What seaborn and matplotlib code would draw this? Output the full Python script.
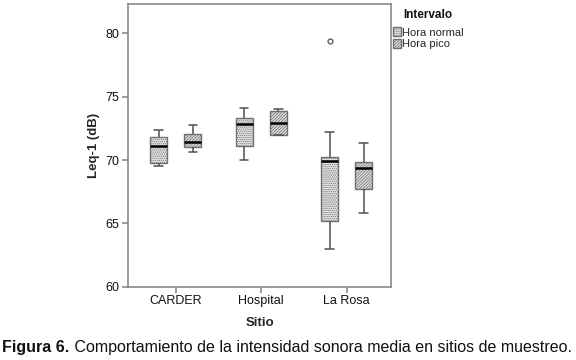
import numpy as np
import pandas as pd
import matplotlib
matplotlib.use('Agg')
import matplotlib.pyplot as plt
from matplotlib.patches import Patch
import seaborn as sns

## Data (Leq-1 in dB, per site and interval)
sitios          = ['CARDER', 'Hospital', 'La Rosa']
intervalos      = ['Hora normal', 'Hora pico']
carder_normal   = [69.5, 69.8, 71.1, 71.8, 72.4]
carder_pico     = [70.65, 71.0, 71.45, 72.05, 72.75]
hospital_normal = [70.0, 71.1, 72.85, 73.3, 74.1]
hospital_pico   = [71.95, 71.95, 72.9, 73.9, 74.05]
larosa_normal   = [63.0, 64.2, 65.2, 67.5, 69.95, 70.1, 70.25, 72.2, 79.4]
larosa_pico     = [65.8, 67.7, 69.4, 69.85, 71.35]
yticks          = [60, 65, 70, 75, 80]

groups = {('CARDER', 'Hora normal'): carder_normal,
          ('CARDER', 'Hora pico'): carder_pico,
          ('Hospital', 'Hora normal'): hospital_normal,
          ('Hospital', 'Hora pico'): hospital_pico,
          ('La Rosa', 'Hora normal'): larosa_normal,
          ('La Rosa', 'Hora pico'): larosa_pico}
rows = []
for (s, i), vals in groups.items():
    for v in vals:
        rows.append({'Sitio': s, 'Intervalo': i, 'Leq': v})
df = pd.DataFrame(rows)

## Style
sns.set_style('white')
plt.rcParams['font.family'] = ['Liberation Sans', 'DejaVu Sans']
plt.rcParams['hatch.linewidth'] = 0.55
axis_col = '#8a8a8a'
edge_col = '#707070'
line_col = '#505050'
hatches  = {'Hora normal': '........', 'Hora pico': '///////////'}

## Figure
fig = plt.figure(figsize=(5.76, 3.6), dpi=100)
ax = fig.add_axes([0.222, 0.203, 0.457, 0.786])

sns.boxplot(data=df, x='Sitio', y='Leq', hue='Intervalo', order=sitios, hue_order=intervalos,
            palette=['#e2e2e2', '#e2e2e2'], width=0.8, gap=0.5, linecolor=line_col, linewidth=1.1,
            medianprops={'color': 'black', 'linewidth': 1.8},
            flierprops={'marker': 'o', 'markersize': 3.5, 'markerfacecolor': 'white',
                        'markeredgecolor': '#606060', 'markeredgewidth': 1.0},
            legend=False, ax=ax)

# hatch each box according to its side of the category
for p in ax.patches:
    xc = p.get_path().vertices[:, 0].mean()
    side = 'Hora normal' if xc - round(xc) < 0 else 'Hora pico'
    p.set_hatch(hatches[side])
    p.set_edgecolor(edge_col)
    p.set_linewidth(1.0)

## Axes customization
ax.set_ylim(60, 82.3)
ax.set_xlim(-0.56, 2.52)
ax.set_yticks(yticks)
for sp in ax.spines.values():
    sp.set_visible(True)
    sp.set_color(axis_col)
    sp.set_linewidth(1.2)
ax.tick_params(axis='both', which='both', direction='out', length=4.5, width=1.2,
               color=axis_col, labelsize=9, labelcolor='#111111', pad=1.5,
               bottom=True, left=True)
ax.set_xlabel('Sitio', fontsize=9.5, fontweight='bold', labelpad=7)
ax.set_ylabel('Leq-1 (dB)', fontsize=9.5, fontweight='bold', labelpad=4)

## Legend (title placed separately, centred over the entries)
handles = [Patch(facecolor='#e2e2e2', edgecolor=edge_col, hatch=hatches[i], label=i) for i in intervalos]
leg = ax.legend(handles=handles, loc='upper left', bbox_to_anchor=(393 / 576, 1 - 27.5 / 360),
                bbox_transform=fig.transFigure, frameon=False, fontsize=8,
                handlelength=0.75, handleheight=0.85, handletextpad=0.1, labelspacing=0.1,
                borderaxespad=0, borderpad=0)
fig.text(428 / 576, 1 - 15 / 360, 'Intervalo', ha='center', va='center',
         fontsize=8.5, fontweight='bold', color='#111111')

## Caption
t1 = fig.text(0.004, 0.022, 'Figura 6.', fontsize=11.5, fontweight='bold', color='#111111')
ax.annotate(' Comportamiento de la intensidad sonora media en sitios de muestreo.',
            xy=(1, 0), xycoords=t1, va='bottom', ha='left', fontsize=11.5, color='#111111')

fig.savefig('out.png', dpi=100)
